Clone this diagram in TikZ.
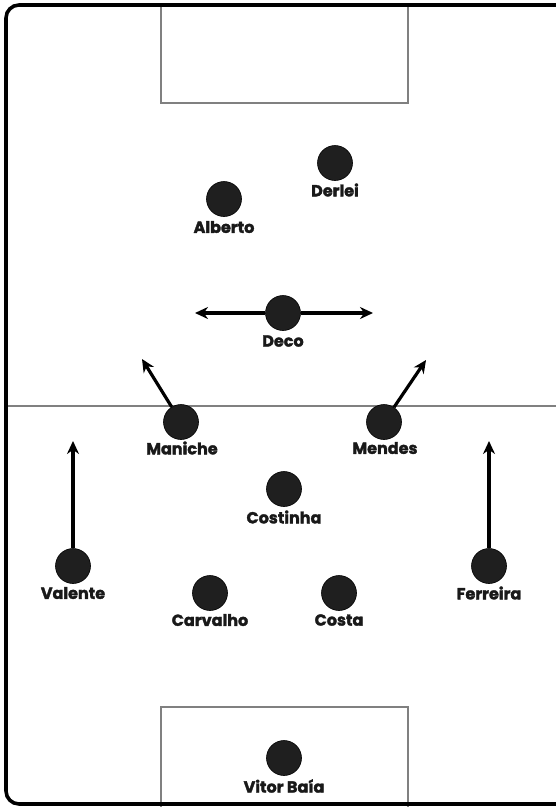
\documentclass[tikz,border=0pt]{standalone}
\usepackage{fontspec}
\setmainfont{Poppins}[BoldFeatures={FakeBold=2}]
\usetikzlibrary{arrows.meta}
\begin{document}
\begin{tikzpicture}[x=1pt,y=-1pt,
  player/.style={circle,fill=black!88,draw=black,line width=0.6pt,minimum size=35pt,inner sep=0pt},
  plabel/.style={font=\bfseries\fontsize{16}{16}\selectfont,text=black!90,inner sep=0pt,anchor=center},
  pitchline/.style={draw=black!50,line width=2pt},
  run/.style={line width=3.2pt,-{Stealth[length=13pt,width=12pt]}}]
\useasboundingbox (0,0) rectangle (556,807);
\fill[white] (0,0) rectangle (556,807);
\begin{scope}
\clip (0,0) rectangle (556,807);
\draw[pitchline] (161,5) rectangle (408,103);
\draw[pitchline] (161,707) rectangle (408,810);
\draw[pitchline] (6,405.5) -- (570,405.5);
\draw[line width=3.6pt,rounded corners=13pt] (600,5) -- (6,5) -- (6,804) -- (600,804);
\end{scope}
% players
\node[player] (derlei) at (335,163) {};
\node[plabel] (derleiL) at (335,190) {Derlei};
\node[player] (alberto) at (224,199) {};
\node[plabel] (albertoL) at (224,227) {Alberto};
\node[player] (deco) at (283,313) {};
\node[plabel] (decoL) at (283,341) {Deco};
\node[player] (maniche) at (181,422) {};
\node[plabel] (manicheL) at (182,448) {Maniche};
\node[player] (mendes) at (384,422) {};
\node[plabel] (mendesL) at (385,448) {Mendes};
\node[player] (costinha) at (284,489) {};
\node[plabel] (costinhaL) at (284,517) {Costinha};
\node[player] (valente) at (73,566) {};
\node[plabel] (valenteL) at (73,593) {Valente};
\node[player] (ferreira) at (489,566) {};
\node[plabel] (ferreiraL) at (489,593) {Ferreira};
\node[player] (carvalho) at (210,593) {};
\node[plabel] (carvalhoL) at (210,620) {Carvalho};
\node[player] (costa) at (339,593) {};
\node[plabel] (costaL) at (339,620) {Costa};
\node[player] (baia) at (284,758) {};
\node[plabel] (baiaL) at (284,786) {Vitor Baía};
% run targets
\coordinate (decoW) at (195,313);
\coordinate (decoE) at (373,313);
\coordinate (manicheT) at (142,359);
\coordinate (mendesT) at (426,360);
\coordinate (valenteT) at (73,441);
\coordinate (ferreiraT) at (489,441);
\draw[run] (deco) -- (decoW);
\draw[run] (deco) -- (decoE);
\draw[run] (maniche) -- (manicheT);
\draw[run] (mendes) -- (mendesT);
\draw[run] (valente) -- (valenteT);
\draw[run] (ferreira) -- (ferreiraT);
\end{tikzpicture}
\end{document}
